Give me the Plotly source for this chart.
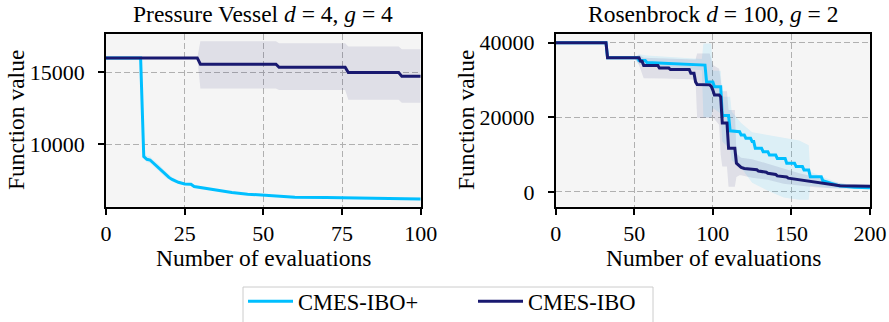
import plotly.graph_objects as go

# ---------------- data: Pressure Vessel (d=4, g=4) ----------------
pv_plus_x = [0, 11, 12, 13, 14, 15, 16, 17, 18, 19, 20, 21, 22, 23, 25, 27, 28, 30, 32, 35, 40, 45, 50, 55, 60, 70, 80, 90, 100]
pv_plus_y = [16000, 16000, 9150, 8960, 8910, 8700, 8500, 8300, 8100, 7880, 7700, 7560, 7450, 7360, 7240, 7220, 7070, 7000, 6900, 6800, 6650, 6540, 6470, 6420, 6330, 6310, 6290, 6260, 6200]
pv_plus_band_x = [11, 12, 13, 14, 15, 16, 17, 18, 19, 20, 21, 22, 23, 25, 30, 40, 60, 100]
pv_plus_band_lo = [16000, 9000, 8750, 8700, 8500, 8300, 8080, 7880, 7680, 7520, 7410, 7330, 7260, 7180, 6960, 6620, 6310, 6190]
pv_plus_band_hi = [16000, 9350, 9200, 9150, 8950, 8720, 8550, 8340, 8100, 7900, 7730, 7580, 7470, 7310, 7040, 6690, 6350, 6210]

pv_ibo_x = [0, 29, 30, 54, 55, 76, 77, 93, 94, 100]
pv_ibo_y = [16000, 16000, 15560, 15560, 15350, 15350, 14980, 14980, 14720, 14720]
pv_ibo_band_lo = [16000, 16000, 13880, 13880, 13770, 13770, 13100, 13100, 12880, 12880]
pv_ibo_band_hi = [16000, 16000, 17150, 17150, 17010, 17010, 16800, 16800, 16600, 16600]

# ---------------- data: Rosenbrock (d=100, g=2) ----------------
rb_plus_x = [0, 32, 33, 52, 53, 57, 58, 70, 80, 95, 96, 100, 101, 105, 106, 110, 111, 117, 118, 120, 121, 124, 125, 126, 127, 131, 132, 135, 136, 140, 141, 146, 147, 152, 153, 157, 158, 161, 162, 169, 170, 175, 180, 190, 200]
rb_plus_y = [40000, 40000, 36000, 36000, 35200, 35200, 34700, 34450, 34200, 34000, 29500, 29500, 28200, 28200, 20500, 20500, 16400, 16150, 15300, 15300, 14400, 14400, 13500, 13500, 11700, 11700, 10800, 10800, 9900, 9900, 9000, 9000, 7700, 7700, 6800, 6800, 5900, 5900, 4100, 4100, 3000, 2400, 1700, 1300, 1150]
rb_plus_band_x = [50, 53, 58, 70, 85, 93, 94, 99, 100, 105, 106, 111, 112, 118, 125, 135, 145, 155, 161, 162, 170, 180, 190, 200]
rb_plus_band_hi = [36000, 36900, 36600, 36300, 35900, 35600, 39800, 39800, 32500, 32500, 25500, 25500, 21500, 18500, 16000, 15200, 14600, 13800, 12500, 5500, 4000, 2500, 1900, 1600]
rb_plus_band_lo = [36000, 34200, 33700, 33200, 32900, 32600, 20000, 20000, 22500, 21000, 13500, 11500, 8500, 6500, 2500, 300, -1500, -2100, -2100, 1700, 1300, 900, 800, 700]

rb_ibo_x = [0, 32, 33, 53, 54, 55, 56, 65, 66, 72, 73, 85, 86, 88, 89, 90, 98, 99, 100, 101, 104, 105, 106, 109, 110, 114, 115, 117, 118, 120, 128, 129, 134, 135, 140, 141, 147, 148, 155, 156, 162, 168, 176, 181, 190, 200]
rb_ibo_y = [40000, 40000, 36000, 36000, 35000, 35000, 33900, 33900, 33200, 33200, 32800, 32800, 31800, 31800, 29500, 28800, 28700, 28300, 27300, 26000, 26000, 25500, 18500, 18500, 11700, 11700, 7700, 7000, 6600, 6300, 5950, 5600, 5300, 5000, 4700, 4300, 4000, 3700, 3300, 3200, 2950, 2600, 2100, 1700, 1600, 1550]
rb_ibo_band_x = [50, 53, 56, 70, 86, 89, 90, 98, 100, 104, 105, 106, 109, 110, 114, 115, 117, 118, 125, 135, 145, 155, 165, 175, 185, 200]
rb_ibo_band_hi = [36000, 36800, 36000, 35800, 35500, 35500, 37100, 37100, 34000, 33000, 30000, 27000, 27000, 22000, 22000, 10500, 9500, 9200, 8800, 7500, 6300, 5000, 4000, 2800, 2100, 1900]
rb_ibo_band_lo = [36000, 34000, 30500, 30400, 30200, 30000, 19800, 19800, 20000, 18000, 10000, 6800, 6800, 1400, 1400, 4000, 4500, 4500, 3800, 3300, 2200, 1700, 1300, 1000, 1000, 1000]

names = ["CMES-IBO+", "CMES-IBO"]
titles = ["Pressure Vessel <i>d</i> = 4, <i>g</i> = 4", "Rosenbrock <i>d</i> = 100, <i>g</i> = 2"]
xlabel = "Number of evaluations"
ylabel = "Function value"
left_xticks = [0, 25, 50, 75, 100]
left_yticks = [10000, 15000]
right_xticks = [0, 50, 100, 150, 200]
right_yticks = [0, 20000, 40000]

# ---------------- style ----------------
W, H = 889, 322
C_PLUS = "#00bfff"
C_IBO = "#191970"
F_PLUS = "rgba(0,191,255,0.10)"
F_IBO = "rgba(25,25,112,0.10)"
FONT = "Liberation Serif, Times New Roman, DejaVu Serif, serif"
FS_TICK = 22
FS_LAB = 23.5
FS_LEG = 22.5

def px(x):
    return x / W

def py(y):
    return 1 - y / H

fig = go.Figure()

def band(x, lo, hi, color, xa, ya):
    fig.add_trace(go.Scatter(
        x=list(x) + list(x)[::-1], y=list(hi) + list(lo)[::-1],
        fill="toself", fillcolor=color, line=dict(width=0),
        mode="lines", hoverinfo="skip", showlegend=False, xaxis=xa, yaxis=ya))

def line(x, y, color, name, show, xa, ya):
    fig.add_trace(go.Scatter(
        x=x, y=y, mode="lines", line=dict(color=color, width=3),
        name=name, showlegend=show, legendgroup=name, xaxis=xa, yaxis=ya))

# left panel
band(pv_plus_band_x, pv_plus_band_lo, pv_plus_band_hi, F_PLUS, "x", "y")
band(pv_ibo_x, pv_ibo_band_lo, pv_ibo_band_hi, F_IBO, "x", "y")
line(pv_plus_x, pv_plus_y, C_PLUS, names[0], True, "x", "y")
line(pv_ibo_x, pv_ibo_y, C_IBO, names[1], True, "x", "y")
# right panel
band(rb_plus_band_x, rb_plus_band_lo, rb_plus_band_hi, F_PLUS, "x2", "y2")
band(rb_ibo_band_x, rb_ibo_band_lo, rb_ibo_band_hi, F_IBO, "x2", "y2")
line(rb_plus_x, rb_plus_y, C_PLUS, names[0], False, "x2", "y2")
line(rb_ibo_x, rb_ibo_y, C_IBO, names[1], False, "x2", "y2")

axis_common = dict(
    showline=True, linecolor="black", linewidth=1.8, mirror=True,
    ticks="outside", ticklen=6, tickwidth=1.6, tickcolor="black",
    showgrid=True, gridcolor="#b0b0b0", gridwidth=1.3, griddash="6px,3px",
    zeroline=False, tickformat="d", automargin=False,
    tickfont=dict(family=FONT, size=FS_TICK, color="black"),
)

ytop, ybot = 34, 206.7
fig.update_layout(
    width=W, height=H,
    margin=dict(l=0, r=0, t=0, b=0, autoexpand=False),
    paper_bgcolor="white", plot_bgcolor="#f5f5f5",
    font=dict(family=FONT, size=FS_TICK, color="black"),
    xaxis=dict(domain=[px(106), px(420.7)], range=[0, 100], tickvals=left_xticks,
               anchor="y", ticklabelstandoff=0, **axis_common),
    yaxis=dict(domain=[py(ybot), py(ytop)], range=[5667, 17660], tickvals=left_yticks,
               anchor="x", ticklabelstandoff=9, **axis_common),
    xaxis2=dict(domain=[px(555.7), px(870)], range=[0, 200], tickvals=right_xticks,
                anchor="y2", ticklabelstandoff=0, **axis_common),
    yaxis2=dict(domain=[py(ybot), py(ytop)], range=[-3940, 42330], tickvals=right_yticks,
                anchor="x2", ticklabelstandoff=9, **axis_common),
    showlegend=True,
    legend=dict(orientation="h", x=px(243), y=py(280), xanchor="left", yanchor="top",
                bgcolor="rgba(0,0,0,0)", borderwidth=0,
                font=dict(family=FONT, size=FS_LEG), entrywidth=170, itemwidth=45),
    shapes=[dict(type="rect", xref="paper", yref="paper",
                 x0=px(243), x1=px(653), y0=py(287), y1=py(335),
                 line=dict(color="#cccccc", width=1), fillcolor="rgba(0,0,0,0)", layer="below")],
)

def ann(text, x, y, angle=0):
    fig.add_annotation(text=text, x=px(x), y=py(y), xref="paper", yref="paper",
                       showarrow=False, xanchor="center", yanchor="middle",
                       textangle=angle, font=dict(family=FONT, size=FS_LAB, color="black"))

ann(titles[0], 263, 14)
ann(titles[1], 713, 14)
ann(xlabel, 263, 258)
ann(xlabel, 713, 258)
ann(ylabel, 16, 120, -90)
ann(ylabel, 466, 120, -90)

fig.write_html("out.html")
